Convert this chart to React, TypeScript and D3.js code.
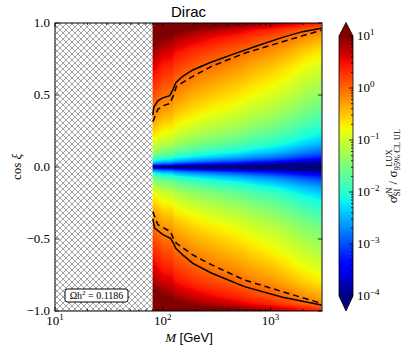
import * as React from "react"
import * as d3 from "d3"

// mass grid (GeV) and |cos xi| grid of the heat map, values are log10 of the ratio
const massNodes = [80.4, 100, 124, 126, 150, 200, 300, 500, 700, 1000, 1500, 2000, 3000]
const cosNodes = [0, 0.01, 0.02, 0.04, 0.07, 0.1, 0.15, 0.2, 0.3, 0.4, 0.5, 0.6, 0.7, 0.8, 0.9, 0.95, 1.0]
const logRatio = [
  [-6, -6, -6, -6, -6, -6, -6, -6, -6, -6, -6, -6, -6],
  [-3.34, -3.56, -3.6, -3.7, -3.78, -3.91, -4.04, -4.19, -4.32, -4.43, -4.6, -4.75, -4.9],
  [-2.74, -2.96, -3.0, -3.1, -3.18, -3.31, -3.44, -3.59, -3.72, -3.83, -4.0, -4.15, -4.3],
  [-2.14, -2.36, -2.4, -2.5, -2.58, -2.71, -2.84, -2.99, -3.12, -3.23, -3.4, -3.55, -3.7],
  [-1.65, -1.87, -1.91, -2.01, -2.09, -2.22, -2.35, -2.5, -2.63, -2.74, -2.91, -3.06, -3.21],
  [-1.34, -1.56, -1.6, -1.7, -1.78, -1.91, -2.04, -2.19, -2.32, -2.43, -2.6, -2.75, -2.9],
  [-0.98, -1.2, -1.24, -1.34, -1.42, -1.55, -1.68, -1.83, -1.96, -2.07, -2.24, -2.39, -2.54],
  [-0.72, -0.94, -0.98, -1.08, -1.16, -1.29, -1.42, -1.57, -1.7, -1.81, -1.98, -2.13, -2.28],
  [-0.35, -0.57, -0.61, -0.71, -0.79, -0.92, -1.05, -1.2, -1.33, -1.44, -1.61, -1.76, -1.91],
  [-0.06, -0.28, -0.32, -0.42, -0.5, -0.63, -0.76, -0.91, -1.04, -1.15, -1.32, -1.47, -1.62],
  [0.18, -0.04, -0.08, -0.18, -0.26, -0.39, -0.52, -0.67, -0.8, -0.91, -1.08, -1.23, -1.38],
  [0.4, 0.18, 0.14, 0.04, -0.04, -0.17, -0.3, -0.45, -0.58, -0.69, -0.86, -1.01, -1.16],
  [0.62, 0.4, 0.36, 0.26, 0.18, 0.05, -0.08, -0.23, -0.36, -0.47, -0.64, -0.79, -0.94],
  [0.87, 0.65, 0.61, 0.51, 0.43, 0.3, 0.17, 0.02, -0.11, -0.22, -0.39, -0.54, -0.69],
  [1.21, 0.99, 0.95, 0.85, 0.77, 0.64, 0.51, 0.36, 0.23, 0.12, -0.05, -0.2, -0.35],
  [1.46, 1.24, 1.2, 1.1, 1.02, 0.89, 0.76, 0.61, 0.48, 0.37, 0.2, 0.05, -0.1],
  [1.96, 1.74, 1.7, 1.6, 1.52, 1.39, 1.26, 1.11, 0.98, 0.87, 0.7, 0.55, 0.4],
]

// ratio = 1 contours, [M, cos xi]
const luxUpper = [[80.8, 0.36], [82.5, 0.415], [89.9, 0.46], [100, 0.48], [116, 0.495], [124, 0.535], [132, 0.585], [153, 0.63], [190, 0.674], [272, 0.724], [445, 0.782], [742, 0.84], [1292, 0.9], [1979, 0.94], [2966, 0.963]]
const luxLower = [[80.8, -0.36], [84, -0.425], [100, -0.47], [118, -0.495], [126, -0.53], [132, -0.565], [153, -0.61], [190, -0.669], [285, -0.738], [573, -0.831], [1292, -0.905], [2966, -0.958]]
const dashUpper = [[80.8, 0.315], [89.9, 0.4], [100, 0.425], [116, 0.44], [126, 0.5], [134, 0.56], [190, 0.63], [285, 0.7], [573, 0.79], [1292, 0.87], [2966, 0.95]]
const dashLower = [[80.8, -0.31], [89.9, -0.4], [118, -0.449], [126, -0.5], [134, -0.53], [190, -0.611], [285, -0.68], [573, -0.785], [1292, -0.866], [2966, -0.947]]

const hatchEdge = 80.4
const xMajor = [10, 100, 1000]
const xMinor = [20, 30, 40, 50, 60, 70, 80, 90, 200, 300, 400, 500, 600, 700, 800, 900, 2000]
const yTicks = [-1, -0.5, 0, 0.5, 1]
const cbExponents = [-4, -3, -2, -1, 0, 1]

const jetR = d3.scaleLinear().domain([0, 0.35, 0.66, 0.89, 1]).range([0, 0, 1, 1, 0.5]).clamp(true)
const jetG = d3.scaleLinear().domain([0, 0.125, 0.375, 0.64, 0.91, 1]).range([0, 0, 1, 1, 0, 0]).clamp(true)
const jetB = d3.scaleLinear().domain([0, 0.11, 0.34, 0.65, 1]).range([0.5, 1, 1, 0, 0]).clamp(true)
const norm = d3.scaleLinear().domain([-4, 1]).range([0, 1]).clamp(true)
const jet = (t: number) => [jetR(t), jetG(t), jetB(t)].map((v) => Math.round(v * 255))

const serif = "'Liberation Serif', 'DejaVu Serif', serif"
const sans = "'Liberation Sans', Arial, sans-serif"

const width = 407
const height = 352
const left = 55
const right = 322
const top = 23
const bottom = 311

const x = d3.scaleLog().domain([10, 3000]).range([left, right])
const y = d3.scaleLinear().domain([-1, 1]).range([bottom, top])
const cb = d3.scaleLinear().domain([-4, 1]).range([296, 36])

const lx = massNodes.map((m) => Math.log10(m))

function lookup(m: number, c: number) {
  const lm = Math.log10(m)
  const ac = Math.abs(c)
  const i = Math.max(0, Math.min(lx.length - 2, d3.bisectRight(lx, lm) - 1))
  const j = Math.max(0, Math.min(cosNodes.length - 2, d3.bisectRight(cosNodes, ac) - 1))
  const tx = Math.max(0, Math.min(1, (lm - lx[i]) / (lx[i + 1] - lx[i])))
  const ty = Math.max(0, Math.min(1, (ac - cosNodes[j]) / (cosNodes[j + 1] - cosNodes[j])))
  const a = logRatio[j][i] * (1 - tx) + logRatio[j][i + 1] * tx
  const b = logRatio[j + 1][i] * (1 - tx) + logRatio[j + 1][i + 1] * tx
  return a * (1 - ty) + b * ty
}

export default function App() {
  const [img, setImg] = React.useState("")
  const x0 = x(hatchEdge)
  const w = Math.round(right - x0)
  const h = bottom - top

  React.useEffect(() => {
    const canvas = document.createElement("canvas")
    canvas.width = w
    canvas.height = h
    const ctx = canvas.getContext("2d")
    if (!ctx) return
    const im = ctx.createImageData(w, h)
    for (let py = 0; py < h; py++) {
      const c = y.invert(top + py + 0.5)
      for (let px = 0; px < w; px++) {
        const m = x.invert(x0 + px + 0.5)
        const [r, g, b] = jet(norm(lookup(m, c)))
        const k = (py * w + px) * 4
        im.data[k] = r
        im.data[k + 1] = g
        im.data[k + 2] = b
        im.data[k + 3] = 255
      }
    }
    ctx.putImageData(im, 0, 0)
    setImg(canvas.toDataURL())
  }, [])

  const line = d3.line().x((d: any) => x(d[0])).y((d: any) => y(d[1]))
  const cbStops = d3.range(0, 1.0001, 0.02)

  return (
    <svg width={width} height={height} style={{ position: "absolute", left: 0, top: 0, background: "#fff" }}>
      <defs>
        <pattern id="hatch" patternUnits="userSpaceOnUse" width={6} height={6}>
          <path d="M0,6L6,0M-1,1L1,-1M5,7L7,5M0,0L6,6M-1,5L1,7M5,-1L7,1" stroke="#666" strokeWidth={0.6} fill="none" />
        </pattern>
        <linearGradient id="cbgrad" x1="0" y1="1" x2="0" y2="0">
          {cbStops.map((t) => {
            const [r, g, b] = jet(t)
            return <stop key={t} offset={t} stopColor={`rgb(${r},${g},${b})`} />
          })}
        </linearGradient>
        <clipPath id="plotclip">
          <rect x={left} y={top} width={right - left} height={bottom - top} />
        </clipPath>
      </defs>

      <text x={(left + right) / 2} y={17} textAnchor="middle" fontFamily={sans} fontSize={15}>Dirac</text>

      <rect x={left} y={top} width={x0 - left} height={bottom - top} fill="url(#hatch)" />
      {img && <image href={img} x={x0} y={top} width={w} height={h} preserveAspectRatio="none" />}

      <g clipPath="url(#plotclip)" fill="none" stroke="#000" strokeWidth={1.5}>
        <path d={line(luxUpper as any) || ""} />
        <path d={line(luxLower as any) || ""} />
        <path d={line(dashUpper as any) || ""} strokeDasharray="6,4" />
        <path d={line(dashLower as any) || ""} strokeDasharray="6,4" />
      </g>

      <rect x={65} y={289} width={63} height={13} rx={2.5} fill="#fff" stroke="#000" strokeWidth={1} />
      <text x={96.5} y={299} textAnchor="middle" fontFamily={serif} fontSize={10}>
        Ωh<tspan dy={-4} fontSize={7}>2</tspan><tspan dy={4}> = 0.1186</tspan>
      </text>

      <g stroke="#000" strokeWidth={0.8}>
        {xMajor.map((t) => (
          <g key={t}>
            <line x1={x(t)} x2={x(t)} y1={bottom} y2={bottom - 4} />
            <line x1={x(t)} x2={x(t)} y1={top} y2={top + 4} />
          </g>
        ))}
        {xMinor.map((t) => (
          <g key={t}>
            <line x1={x(t)} x2={x(t)} y1={bottom} y2={bottom - 2} />
            <line x1={x(t)} x2={x(t)} y1={top} y2={top + 2} />
          </g>
        ))}
        {yTicks.map((t) => (
          <g key={t}>
            <line x1={left} x2={left + 4} y1={y(t)} y2={y(t)} />
            <line x1={right} x2={right - 4} y1={y(t)} y2={y(t)} />
          </g>
        ))}
      </g>
      <rect x={left} y={top} width={right - left} height={bottom - top} fill="none" stroke="#000" strokeWidth={1} />

      <g fontFamily={serif} fontSize={13}>
        {xMajor.map((t) => (
          <text key={t} x={x(t)} y={325} textAnchor="middle">
            10<tspan dy={-5} fontSize={9}>{Math.log10(t)}</tspan>
          </text>
        ))}
        {yTicks.map((t) => (
          <text key={t} x={50} y={y(t) + 3.5} textAnchor="end">
            {t < 0 ? "−" + d3.format(".1f")(-t) : d3.format(".1f")(t)}
          </text>
        ))}
      </g>

      <text x={189} y={342} textAnchor="middle" fontSize={13}>
        <tspan fontFamily={serif} fontStyle="italic">M</tspan>
        <tspan fontFamily={sans}> [GeV]</tspan>
      </text>
      <text transform={`translate(21,${(top + bottom) / 2}) rotate(-90)`} textAnchor="middle" fontFamily={serif} fontSize={13}>
        cos <tspan fontStyle="italic">ξ</tspan>
      </text>

      {/* colour bar */}
      <rect x={339} y={36} width={14} height={260} fill="url(#cbgrad)" />
      <path d="M339,36L346,22.5L353,36Z" fill="#800000" />
      <path d="M339,296L346,311L353,296Z" fill="#000080" />
      <path d="M339,36L346,22.5L353,36L353,296L346,311L339,296Z" fill="none" stroke="#000" strokeWidth={0.8} />
      <g stroke="#000" strokeWidth={0.8}>
        {cbExponents.map((e) => (
          <line key={e} x1={353} x2={349} y1={cb(e)} y2={cb(e)} />
        ))}
        {cbExponents.slice(0, -1).map((e) =>
          d3.range(2, 10).map((k) => (
            <line key={e + "-" + k} x1={353} x2={351} y1={cb(e + Math.log10(k))} y2={cb(e + Math.log10(k))} />
          ))
        )}
      </g>
      <g fontFamily={serif} fontSize={13}>
        {cbExponents.map((e) => (
          <text key={e} x={357} y={cb(e) + 4}>
            10<tspan dy={-5} fontSize={9}>{e < 0 ? "−" + -e : e}</tspan>
          </text>
        ))}
      </g>
      <text transform="translate(397,166) rotate(-90)" textAnchor="middle" fontFamily={serif} fontSize={13}>
        σ<tspan dy={3} fontSize={8.5}>SI</tspan>
        <tspan dx={-9} dy={-8.5} fontSize={8.5}>χN</tspan>
        <tspan dy={5.5}> / σ</tspan>
        <tspan dy={3} fontSize={8.5}>95% CL UL</tspan>
        <tspan dx={-38} dy={-8.5} fontSize={8.5}>LUX</tspan>
      </text>
    </svg>
  )
}
